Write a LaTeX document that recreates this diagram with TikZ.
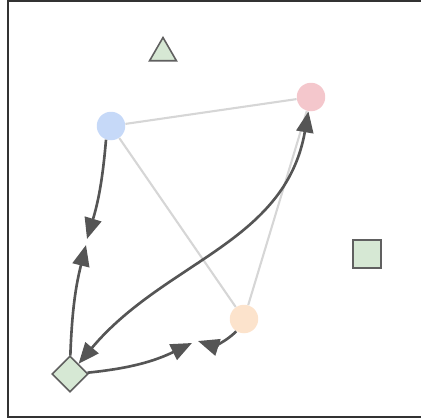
\documentclass[tikz,border=0pt]{standalone}
\usetikzlibrary{arrows.meta,shapes.geometric}

\definecolor{cblue}{RGB}{198,217,248}
\definecolor{cpink}{RGB}{244,199,204}
\definecolor{corange}{RGB}{252,227,204}
\definecolor{cgreen}{RGB}{214,232,212}
\definecolor{cedge}{RGB}{214,214,214}
\definecolor{carrow}{RGB}{85,85,85}
\definecolor{cborder}{RGB}{96,96,96}

\begin{document}
\begin{tikzpicture}[x=0.02cm, y=-0.02cm,
	>={Triangle[length=0.42cm, width=0.34cm]},
	vertex/.style={circle, fill=#1, minimum size=0.57cm, inner sep=0pt},
	shp/.style={draw=cborder, line width=0.9pt, fill=cgreen, inner sep=0pt},
	light/.style={draw=cedge, line width=1.2pt},
	heavy/.style={draw=carrow, line width=1.5pt}]

	\useasboundingbox (0,0) rectangle (420,420);
	\draw[line width=1.3pt, draw=black!80] (8,1) rectangle (432,417);

	\node[vertex=cblue] (C-00) at (111,126) {};
	\node[vertex=cpink] (C-01) at (311,97) {};
	\node[vertex=corange] (C-02) at (244,319) {};

	\node[shp, diamond, aspect=1, minimum size=0.72cm] (S-00) at (70,374) {};
	\node[shp, regular polygon, regular polygon sides=3, minimum size=0.62cm] (S-01) at (163,53) {};
	\node[shp, rectangle, minimum size=0.57cm] (S-02) at (367,254) {};

	\coordinate (M-00) at (87,239);
	\coordinate (M-01) at (86,245);
	\coordinate (M-02) at (192,343);
	\coordinate (M-03) at (198,341);

	\draw[light] (C-00) to (C-01);
	\draw[light] (C-00) to (C-02);
	\draw[light] (C-01) to (C-02);

	\draw[heavy,->] (C-00.250) to[bend left=6] (M-00);
	\draw[heavy,->] (S-00) to[bend left=6] (M-01);
	\draw[heavy,->] (S-00) to[bend right=10] (M-02);
	\draw[heavy,->] (C-02) to[bend left=32] (M-03);
	\draw[heavy,<->] (S-00) to[out=50, in=-100] (C-01);

\end{tikzpicture}
\end{document}
